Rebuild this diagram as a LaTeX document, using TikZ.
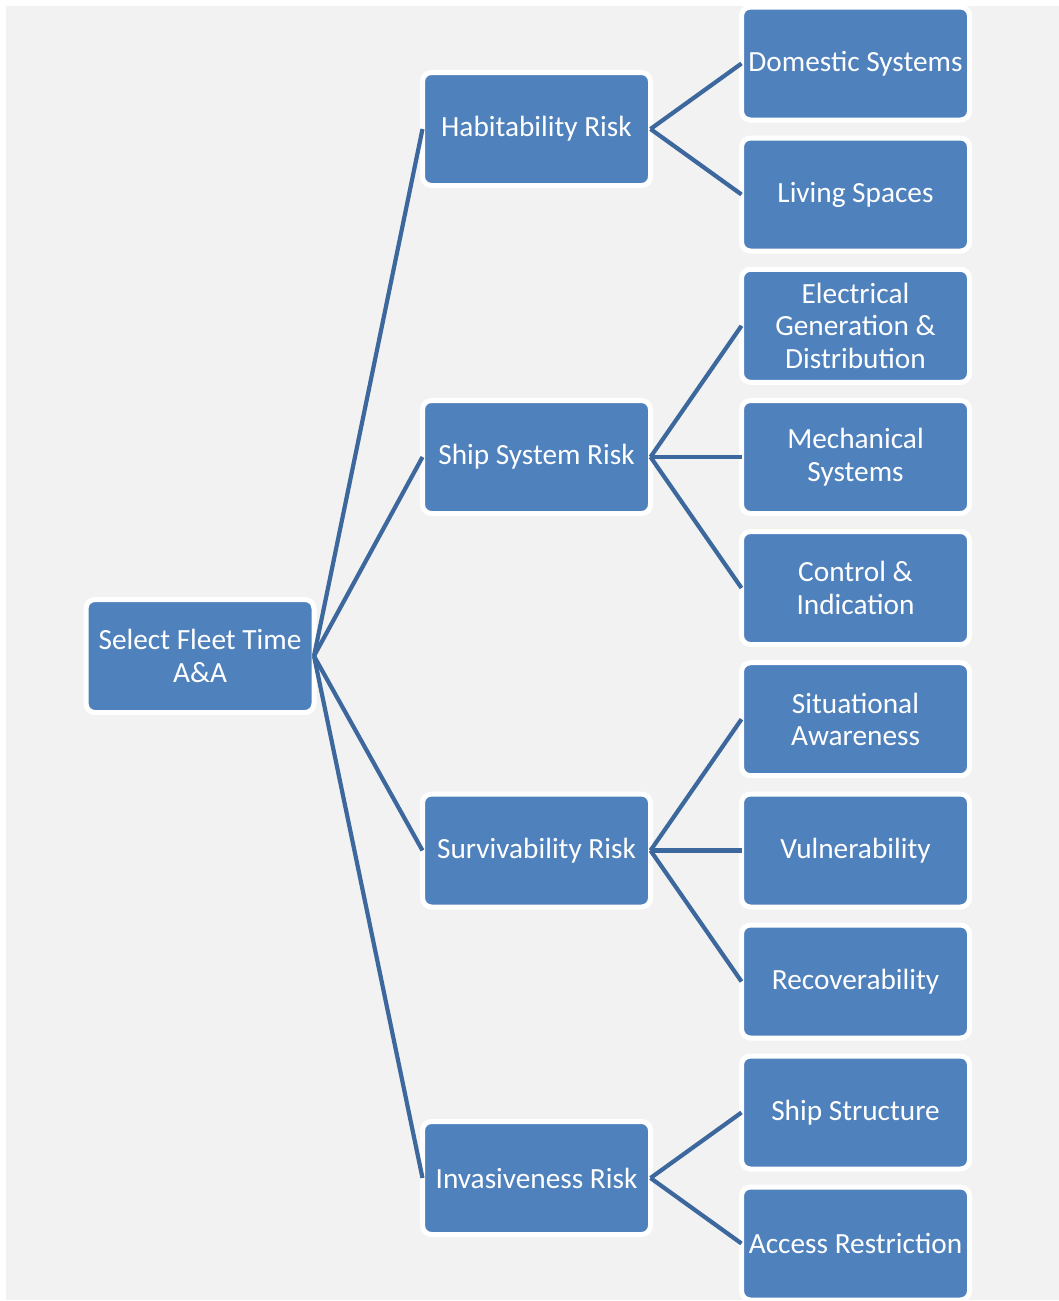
\documentclass[tikz,border=0pt]{standalone}
\usepackage{fontspec}
\setmainfont{Carlito}
\definecolor{boxfill}{HTML}{4F81BD}
\definecolor{linkcol}{RGB}{60,104,158}
\definecolor{canvas}{HTML}{F2F2F2}
\begin{document}
\begin{tikzpicture}[x=1pt,y=-1pt,
  riskbox/.style={rectangle, rounded corners=9pt, fill=boxfill, draw=white,
    line width=5pt, minimum width=228pt, minimum height=113pt, inner sep=1pt,
    outer sep=0pt, align=center, text=white,
    font=\fontsize{29.3}{32.5}\selectfont},
  link/.style={draw=linkcol, line width=4.2pt}]
  \useasboundingbox (0,0) rectangle (1059,1301);
  \fill[white] (0,0) rectangle (1059,1301);
  \fill[canvas] (6,6) rectangle (1059,1300);

  % root
  \node[riskbox] (root) at (200,656) {Select Fleet Time\\A\&A};

  % second level
  \node[riskbox] (hab) at (536.5,129) {Habitability Risk};
  \node[riskbox] (ship) at (536.5,457) {Ship System Risk};
  \node[riskbox] (surv) at (536.5,850.5) {Survivability Risk};
  \node[riskbox] (inv) at (536.5,1178) {Invasiveness Risk};

  % third level
  \node[riskbox] (dom) at (855.5,63.5) {Domestic Systems};
  \node[riskbox] (liv) at (855.5,194.5) {Living Spaces};
  \node[riskbox] (elec) at (855.5,325.8) {Electrical\\Generation \&\\Distribution};
  \node[riskbox] (mech) at (855.5,457) {Mechanical\\Systems};
  \node[riskbox] (ctrl) at (855.5,588) {Control \&\\Indication};
  \node[riskbox] (sit) at (855.5,719.2) {Situational\\Awareness};
  \node[riskbox] (vul) at (855.5,850.5) {Vulnerability};
  \node[riskbox] (rec) at (855.5,981.5) {Recoverability};
  \node[riskbox] (str) at (855.5,1112.5) {Ship Structure};
  \node[riskbox] (acc) at (855.5,1243.5) {Access Restriction};

  % connectors
  \foreach \m in {hab,ship,surv,inv}
    \draw[link] (root.east) -- (\m.west);
  \foreach \c in {dom,liv}
    \draw[link] (hab.east) -- (\c.west);
  \foreach \c in {elec,mech,ctrl}
    \draw[link] (ship.east) -- (\c.west);
  \foreach \c in {sit,vul,rec}
    \draw[link] (surv.east) -- (\c.west);
  \foreach \c in {str,acc}
    \draw[link] (inv.east) -- (\c.west);
\end{tikzpicture}
\end{document}
